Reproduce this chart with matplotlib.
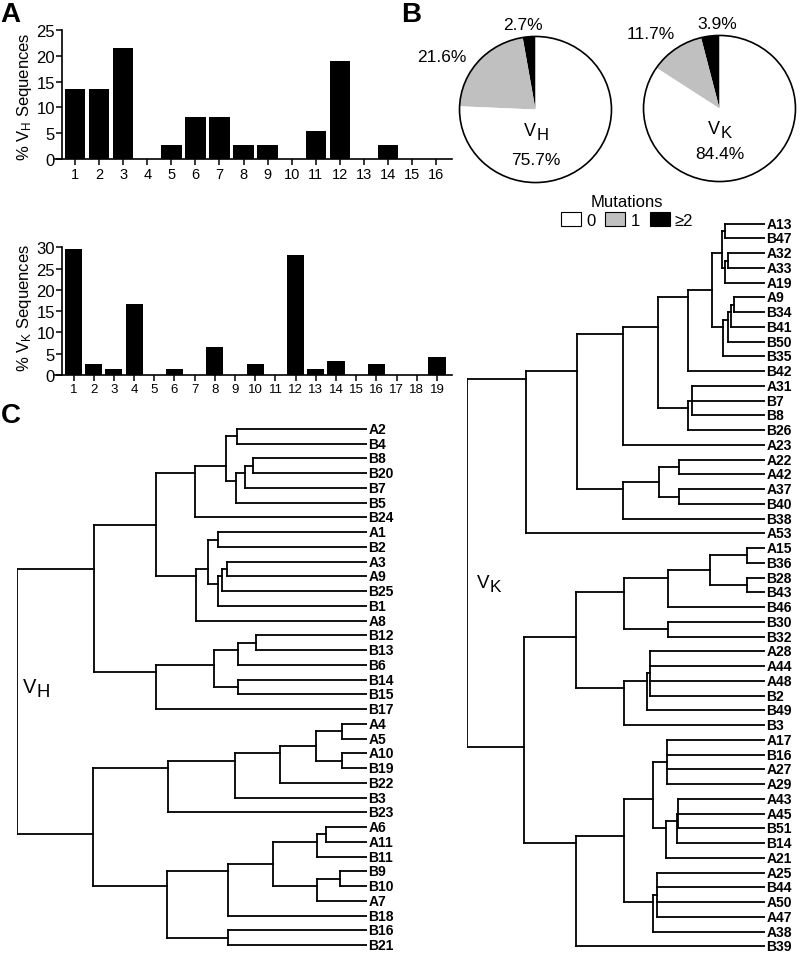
import matplotlib
matplotlib.use('Agg')
import matplotlib.pyplot as plt
from matplotlib.patches import Circle, Patch

plt.rcParams['font.family'] = ['Liberation Sans', 'DejaVu Sans']
plt.rcParams['mathtext.default'] = 'regular'

# ---- data ----
vh_families = [str(i) for i in range(1, 17)]
vh_pct = [13.5, 13.5, 21.6, 0, 2.7, 8.1, 8.1, 2.7, 2.7, 0, 5.4, 18.9, 0, 2.7, 0, 0]

vk_families = [str(i) for i in range(1, 20)]
vk_pct = [29.5, 2.7, 1.4, 16.7, 0, 1.4, 0, 6.5, 0, 2.7, 0, 28.2, 1.4, 3.2, 0, 2.7, 0, 0, 4.2]

mut_labels = ['0', '1', '\u22652']
mut_colors = ['white', '#c0c0c0', 'black']
vh_mut = [75.7, 21.6, 2.7]
vk_mut = [84.4, 11.7, 3.9]

# trees: (node height, child, child, ...), leaves are names; height 0 = root, 100 = tips
vh_tree = (0,
    (22.2,
        (39.7,
            (50.9,
                (59.7,
                    (62.8, 'A2', 'B4'),
                    (62.7, (65.2, (67.4, 'B8', 'B20'), 'B7'), 'B5')),
                'B24'),
            (51.1,
                (54.7,
                    (57.6, 'A1', 'B2'),
                    (57.5, (58.7, (59.9, 'A3', 'A9'), 'B25'), 'B1')),
                'A8')),
        (39.7,
            (56.4,
                (63.1, (68.3, 'B12', 'B13'), 'B6'),
                (63.3, 'B14', 'B15')),
            'B17')),
    (21.9,
        (43.3,
            (62.3,
                (75.2,
                    (85.4, (92.8, 'A4', 'A5'), (92.8, 'A10', 'B19')),
                    'B22'),
                'B3'),
            'B23'),
        (43.0,
            (60.2,
                (73.3,
                    (85.6, (88.3, 'A6', 'A11'), 'B11'),
                    (85.6, (92.3, 'B9', 'B10'), 'A7')),
                'B18'),
            (60.2, 'B16', 'B21'))))

vk_tree = (0,
    (19.8,
        (37.1,
            (52.5,
                (64.2,
                    (74.3,
                        (82.3,
                            (85.5,
                                (86.6, 'A13', 'B47'),
                                (86.6, (87.5, 'A32', 'A33'), 'A19')),
                            (86.0,
                                (87.5, (88.5, (89.6, 'A9', 'B34'), 'B41'), 'B50'),
                                'B35')),
                        'B42'),
                    (74.3, (75.6, 'A31', 'B7', 'B8'), 'B26')),
                'A23'),
            (52.5,
                (64.5, (71.2, 'A22', 'A42'), (71.2, 'A37', 'B40')),
                'B38')),
        'A53'),
    (19.3,
        (36.5,
            (52.7,
                (67.6,
                    (81.6, (94.1, 'A15', 'B36'), (94.1, 'B28', 'B43')),
                    'B46'),
                (67.6, 'B30', 'B32')),
            (52.7,
                (60.5, (61.3, 'A28', 'A44', 'A48', 'B2'), 'B49'),
                'B3')),
        (36.5,
            (52.7,
                (62.4,
                    (67.0, 'A17', 'B16', 'A27', 'A29'),
                    (66.7, (70.4, (70.9, 'A43', 'A45', 'B51'), 'B14'), 'A21')),
                (62.4, (63.7, 'A25', 'B44', 'A50', 'A47'), 'A38')),
            'B39')))

# ---- layout helpers (pixel boxes on an 800 x 954 canvas) ----
W, H = 800, 954
fig = plt.figure(figsize=(W / 100, H / 100), dpi=100)


def add_ax(left, top, right, bottom):
    return fig.add_axes([left / W, 1 - bottom / H, (right - left) / W, (bottom - top) / H])


def ftext(x, y, s, **kw):
    return fig.text(x / W, 1 - y / H, s, **kw)


def v_sub(x, y, sub, size, drop):
    # "V" with a near full-size lowered subscript, placed in canvas pixels
    ftext(x, y, 'V', ha='right', va='baseline', fontsize=size)
    ftext(x + 1, y + drop, sub, ha='left', va='baseline', fontsize=size * 0.92)


def bar_panel(ax, labels, values, xlim, spine_x, ymax, xfs):
    pos = list(range(1, len(labels) + 1))
    ax.bar(pos, values, width=0.85, color='black')
    ax.set_xlim(*xlim)
    ax.set_ylim(0, ymax)
    ax.set_xticks(pos)
    ax.set_xticklabels(labels, fontsize=xfs)
    ax.set_yticks(range(0, ymax + 1, 5))
    ax.tick_params(axis='y', labelsize=12, direction='out', length=4, width=1.1, pad=1)
    ax.tick_params(axis='x', direction='out', length=4, width=1.1, pad=2)
    for s in ['top', 'right']:
        ax.spines[s].set_visible(False)
    ax.spines['left'].set_position(('data', spine_x))
    ax.spines['left'].set_linewidth(1.2)
    ax.spines['bottom'].set_linewidth(1.2)
    ax.patch.set_alpha(0)


# ---- panel A ----
ax1 = add_ax(55, 31, 452, 160)
bar_panel(ax1, vh_families, vh_pct, (0.17, 16.66), 0.46, 25, 10.5)
ftext(24, 97, '% V$_{H}$ Sequences', rotation=90, ha='center', va='center', fontsize=12)

ax2 = add_ax(55, 248.3, 452, 376)
bar_panel(ax2, vk_families, vk_pct, (0.084, 19.74), 0.43, 30, 9.5)
ftext(24, 308, '% V$_{K}$ Sequences', rotation=90, ha='center', va='center', fontsize=12)

ftext(0, 22, 'A', fontsize=20, fontweight='bold', va='baseline')
ftext(401, 22, 'B', fontsize=20, fontweight='bold', va='baseline')
ftext(1, 423, 'C', fontsize=20, fontweight='bold', va='baseline')


# ---- panel B: pies ----
def pie_panel(cx, cy, values, name, label_pos):
    ax = add_ax(cx - 77.5, cy - 74.5, cx + 77.5, cy + 74.5)
    ax.pie(values[::-1], colors=mut_colors[::-1], startangle=90, counterclock=True,
           radius=1, wedgeprops=dict(linewidth=0))
    ax.add_patch(Circle((0, 0), 1, fill=False, lw=1.2, color='black'))
    ax.set_aspect('auto')
    ax.set_xlim(-1.02, 1.02)
    ax.set_ylim(-1.02, 1.02)
    for v, (x, y) in zip(values, label_pos):
        ax.text(x, y, f'{v:.1f}%', ha='center', va='center', fontsize=12.5, clip_on=False)
    v_sub(cx, cy + 25, name, 13, 4)


pie_panel(535.5, 110.5, vh_mut, 'H', [(0, -0.69), (-1.23, 0.72), (-0.17, 1.17)])
pie_panel(719.5, 109.5, vk_mut, 'K', [(0, -0.62), (-0.9, 1.03), (-0.03, 1.17)])

handles = [Patch(facecolor=c, edgecolor='black', linewidth=0.8) for c in mut_colors]
fig.legend(handles, mut_labels, ncol=3, title='Mutations', frameon=False,
           loc='upper center', bbox_to_anchor=(627 / W, 1 - 187 / H),
           fontsize=12, title_fontsize=12, handlelength=1.2, handleheight=0.9,
           handletextpad=0.3, columnspacing=0.6, borderpad=0, labelspacing=0.15)


# ---- panel C: dendrograms ----
def draw_tree(ax, tree):
    def walk(node):
        if isinstance(node, str):
            i = len(order)
            order.append(node)
            return 100, i, 1, i
        h = node[0]
        kids = [walk(c) for c in node[1:]]
        for x, y, _, _ in kids:
            ax.plot([h, x], [y, y], color='black', lw=1.3, solid_capstyle='projecting')
        ys = [k[1] for k in kids]
        ax.plot([h, h], [min(ys), max(ys)], color='black', lw=1.3, solid_capstyle='projecting')
        n = sum(k[2] for k in kids)
        s = sum(k[3] for k in kids)
        return h, s / n, n, s

    order = []
    walk(tree)
    for i, name in enumerate(order):
        ax.text(100.4, i, name, ha='left', va='center', fontsize=10,
                fontweight='bold', clip_on=False)
    ax.set_xlim(0, 100)
    ax.axis('off')
    return len(order)


vh_ax = add_ax(16.7, 422.6, 367, 953)
draw_tree(vh_ax, vh_tree)
vh_ax.set_ylim(35 + (953 - 946) / 14.74, -0.5)
v_sub(36, 693, 'H', 14.5, 4)

vk_ax = add_ax(466.7, 224.7 - 7.4, 765, 953)
draw_tree(vk_ax, vk_tree)
vk_ax.set_ylim(49 + (953 - 947.3) / 14.75, -0.5)
v_sub(489, 588, 'K', 13.5, 4)

fig.savefig('out.png', dpi=100)
